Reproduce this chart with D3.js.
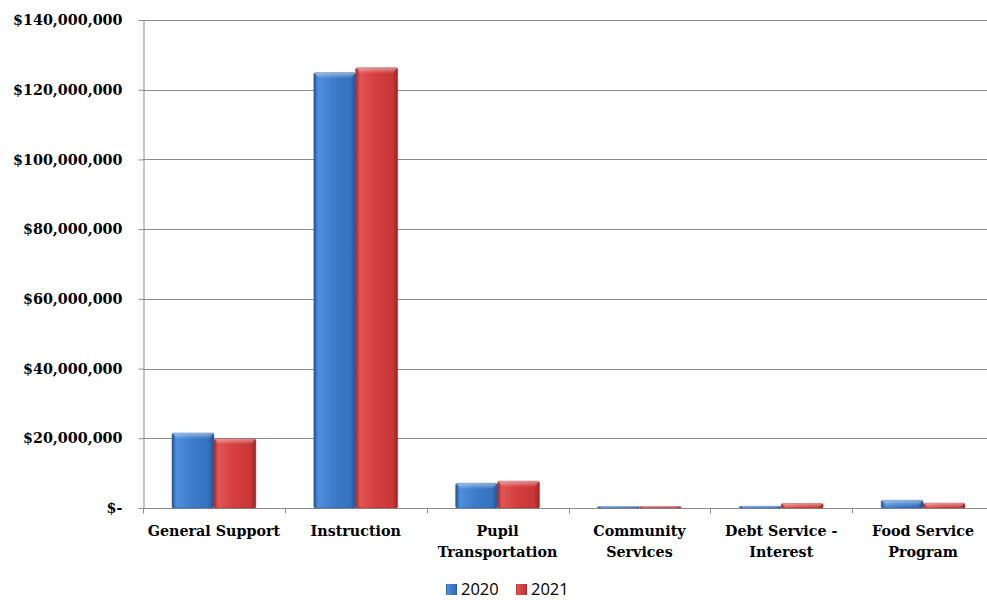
<!DOCTYPE html>
<html>
<head>
<meta charset="utf-8">
<script src="https://cdn.jsdelivr.net/npm/d3@7"></script>
<style>
  body { margin: 0; background: #fff; }
  svg { display: block; }
</style>
</head>
<body>
<div id="chart-area"></div>
<script>
// data
var categories = [
    ["General Support"],
    ["Instruction"],
    ["Pupil", "Transportation"],
    ["Community", "Services"],
    ["Debt Service -", "Interest"],
    ["Food Service", "Program"]
];
var seriesNames = ["2020", "2021"];
var values2020 = [21500000, 124900000, 7100000, 400000, 500000, 2200000];
var values2021 = [19900000, 126300000, 7700000, 400000, 1300000, 1400000];
var yTicks = [0, 20000000, 40000000, 60000000, 80000000, 100000000, 120000000, 140000000];

var W = 987, H = 600;
var margin = { top: 20, right: -7, bottom: 92, left: 143 },
    width = W - margin.left - margin.right,
    height = H - margin.top - margin.bottom;

var svg = d3.select("#chart-area")
    .append("svg")
    .attr("width", W)
    .attr("height", H);

var defs = svg.append("defs");
var palettes = {
    "2020": ["#22518f", "#4f90dc", "#3d7dcc", "#3470bd", "#23508c"],
    "2021": ["#9c2a2a", "#e25555", "#d63f3f", "#c83636", "#962626"]
};
seriesNames.forEach(function (s) {
    var g = defs.append("linearGradient")
        .attr("id", "grad" + s)
        .attr("x1", "0%").attr("x2", "100%").attr("y1", "0%").attr("y2", "0%");
    var c = palettes[s];
    [[0, c[0]], [0.1, c[1]], [0.45, c[2]], [0.88, c[3]], [1, c[4]]].forEach(function (st) {
        g.append("stop").attr("offset", st[0]).attr("stop-color", st[1]);
    });
});
var hl = defs.append("linearGradient")
    .attr("id", "topHl")
    .attr("x1", "0%").attr("x2", "0%").attr("y1", "0%").attr("y2", "100%");
hl.append("stop").attr("offset", 0).attr("stop-color", "#fff").attr("stop-opacity", 0.45);
hl.append("stop").attr("offset", 1).attr("stop-color", "#fff").attr("stop-opacity", 0);

var chart = svg.append("g")
    .attr("transform", `translate(${margin.left},${margin.top})`);

var x0 = d3.scaleBand().domain(d3.range(categories.length)).range([0, width]).paddingInner(0).paddingOuter(0);
var x1 = d3.scaleBand().domain(seriesNames).range([29, x0.bandwidth() - 29]);
var y = d3.scaleLinear().domain([0, 140000000]).range([height, 0]);

// gridlines
chart.append("g")
    .selectAll("line")
    .data(yTicks.slice(1))
    .enter()
    .append("line")
    .attr("x1", 0)
    .attr("x2", width)
    .attr("y1", d => Math.round(y(d)) + 0.5)
    .attr("y2", d => Math.round(y(d)) + 0.5)
    .attr("stroke", "#8c8c8c")
    .attr("stroke-width", 1);

var fmt = d => d === 0 ? "$-" : "$" + d3.format(",")(d);

var yAxis = chart.append("g")
    .attr("class", "y-axis")
    .attr("transform", "translate(0.5,0)")
    .call(d3.axisLeft(y).tickValues(yTicks).tickFormat(fmt).tickSize(5).tickPadding(16));
yAxis.selectAll("line, path").attr("stroke", "#8c8c8c");
yAxis.selectAll("text")
    .attr("font-family", "DejaVu Serif")
    .attr("font-weight", "bold")
    .attr("font-size", "14.3px")
    .attr("fill", "#000");

// bottom axis with ticks at category boundaries
var xAxisG = chart.append("g")
    .attr("transform", `translate(0,${Math.round(height) + 0.5})`);
xAxisG.append("line")
    .attr("x1", 0).attr("x2", width)
    .attr("stroke", "#8c8c8c");
xAxisG.selectAll(".tk")
    .data(d3.range(categories.length + 1))
    .enter()
    .append("line")
    .attr("x1", d => Math.round(d * x0.bandwidth()) + 0.5)
    .attr("x2", d => Math.round(d * x0.bandwidth()) + 0.5)
    .attr("y1", 0)
    .attr("y2", 5)
    .attr("stroke", "#8c8c8c");

var labels = xAxisG.selectAll(".cat")
    .data(categories)
    .enter()
    .append("text")
    .attr("class", "cat")
    .attr("x", (d, i) => x0(i) + x0.bandwidth() / 2)
    .attr("y", 27)
    .attr("text-anchor", "middle")
    .attr("font-family", "DejaVu Serif")
    .attr("font-weight", "bold")
    .attr("font-size", "14.3px")
    .attr("fill", "#000");
labels.selectAll("tspan")
    .data(d => d)
    .enter()
    .append("tspan")
    .attr("x", function () { return this.parentNode.getAttribute("x"); })
    .attr("dy", (d, i) => i === 0 ? 0 : 21)
    .text(d => d);

// bars
var rows = categories.map((c, i) => ({ i: i, values: [values2020[i], values2021[i]] }));
var groups = chart.selectAll(".grp")
    .data(rows)
    .enter()
    .append("g")
    .attr("class", "grp")
    .attr("transform", d => `translate(${x0(d.i)},0)`);

var bars = groups.selectAll(".bar")
    .data(d => d.values.map((v, k) => ({ key: seriesNames[k], value: v })))
    .enter()
    .append("g")
    .attr("class", "bar");

bars.append("rect")
    .attr("x", d => x1(d.key))
    .attr("y", d => y(d.value))
    .attr("width", x1.bandwidth())
    .attr("height", d => height - y(d.value))
    .attr("rx", 1.5)
    .attr("fill", d => `url(#grad${d.key})`)
    .attr("stroke", d => d.key === "2020" ? "#2a5b99" : "#a33030")
    .attr("stroke-opacity", 0.6)
    .attr("stroke-width", 0.8);

bars.append("path")
    .attr("d", d => {
        var x = x1(d.key), w = x1.bandwidth(), t = y(d.value);
        var h = Math.min(6, height - t);
        return `M${x},${t} L${x + w},${t} L${x + w - 5},${t + h} L${x + 5},${t + h} Z`;
    })
    .attr("fill", "url(#topHl)");

// legend
var legend = svg.append("g")
    .attr("transform", `translate(446,584)`);
var item = legend.selectAll(".legend-row")
    .data(seriesNames)
    .enter()
    .append("g")
    .attr("transform", (d, i) => `translate(${i * 70},0)`);
item.append("rect")
    .attr("width", 11)
    .attr("height", 11)
    .attr("fill", d => `url(#grad${d})`);
item.append("text")
    .attr("x", 15)
    .attr("y", 11)
    .attr("font-family", "Open Sans")
    .attr("font-size", "16.5px")
    .attr("fill", "#000")
    .text(d => d);
</script>
</body>
</html>
